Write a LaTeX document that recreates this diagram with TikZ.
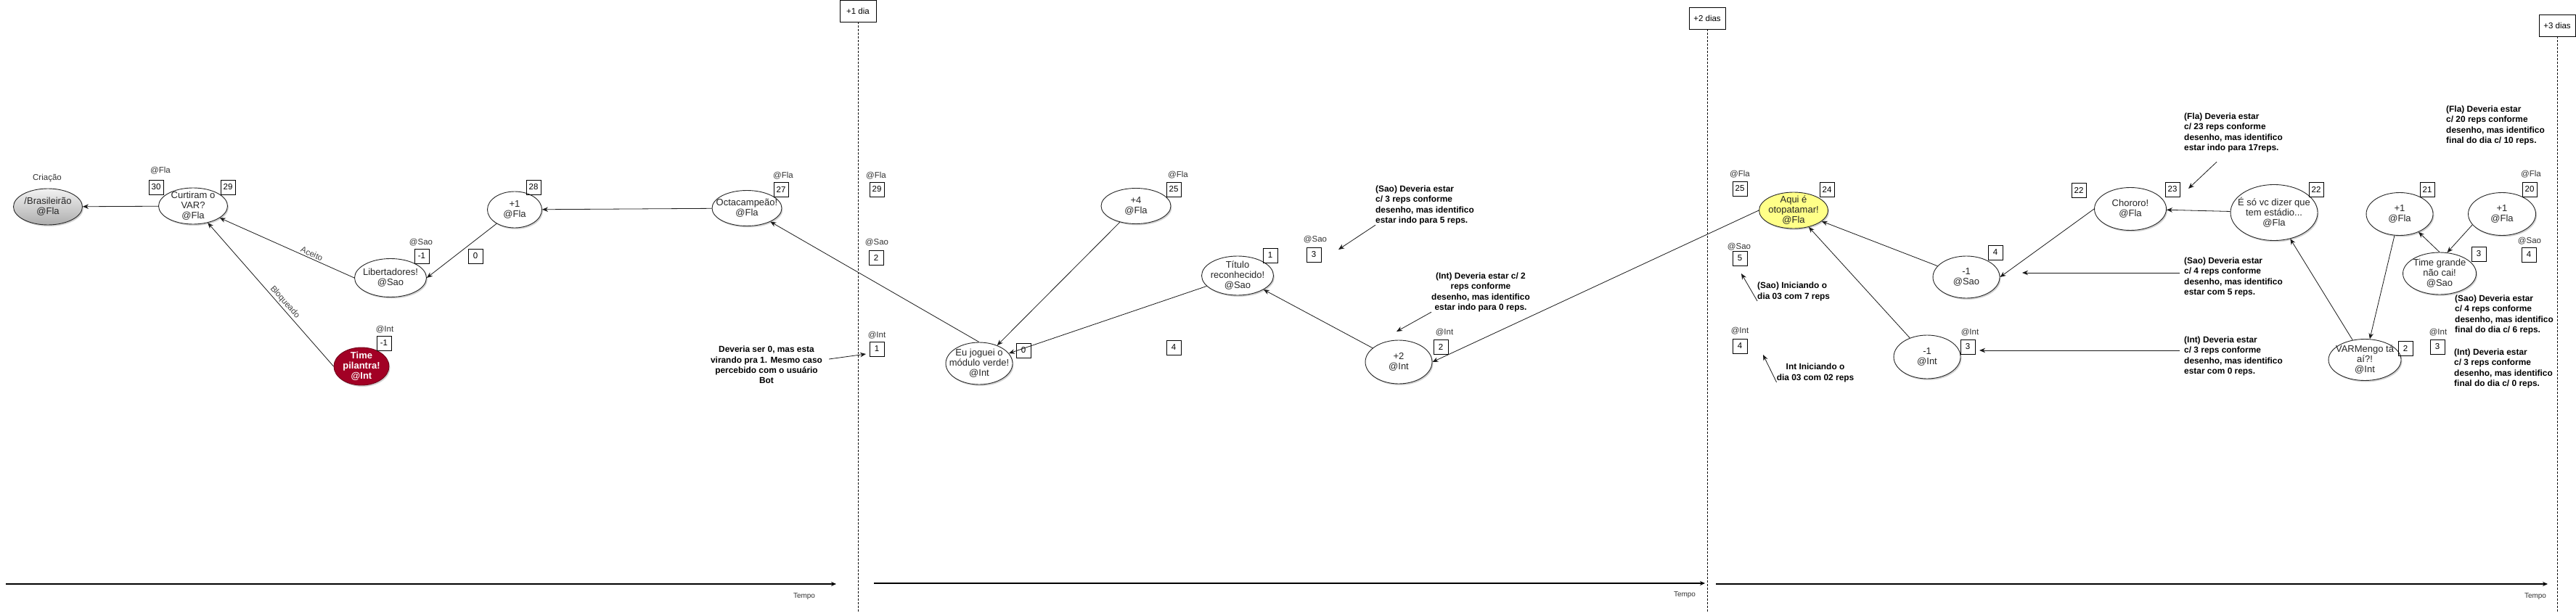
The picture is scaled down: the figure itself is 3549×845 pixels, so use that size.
\documentclass[tikz,border=0pt]{standalone}
\usepackage{fontspec}
\setmainfont{Liberation Sans}
\usetikzlibrary{positioning,arrows.meta,shadows,calc,shapes.geometric}
\definecolor{pilantrared}{HTML}{A20025}
\definecolor{patamar}{HTML}{FFFF88}

\begin{document}
\begin{tikzpicture}[
  x=1pt,y=-1pt,
  font=\fontsize{13}{14}\selectfont,
  post/.style={ellipse,draw=black!85,line width=0.9pt,fill=white,text=black!85,align=center,
               inner sep=-30pt,minimum width=95pt,minimum height=50pt,
               drop shadow={shadow xshift=1.5pt,shadow yshift=-2pt,fill=black!30,opacity=0.6}},
  num/.style={draw,line width=0.9pt,minimum width=20pt,minimum height=20pt,inner sep=0pt,
              font=\fontsize{11.5}{13}\selectfont},
  who/.style={inner sep=0pt,text=black!80,font=\fontsize{11.5}{13}\selectfont},
  lbl/.style={inner sep=1pt,text=black!75,font=\fontsize{11.5}{13}\selectfont},
  note/.style={inner sep=0pt,align=left,font=\bfseries\fontsize{11.9}{14.3}\selectfont},
  day/.style={draw,line width=0.9pt,minimum width=50pt,minimum height=30pt,inner sep=0pt,
              font=\fontsize{11.5}{13}\selectfont},
  arr/.style={-{Stealth[length=8pt,width=6.5pt]},line width=0.8pt,black!90},
  vira/.style={dash pattern=on 3pt off 2pt,line width=0.8pt},
  tempo/.style={-{Stealth[length=7pt,width=6pt]},line width=1.2pt},
]
\useasboundingbox (0,0) rectangle (3549,845);

% ---------- Dia 0: criacao do topico ----------
\node[who] (criacao) at (65,246) {Criação};
\node[post,top color=black!5,bottom color=black!32] (bras) at (66,285) {/Brasileirão\\@Fla};
\node[post] (curtiram) at (266,284) {Curtiram o\\VAR?\\@Fla};
\node[post,minimum width=99pt,minimum height=53pt] (libert) at (538,383) {Libertadores!\\@Sao};
\node[post,fill=pilantrared,draw=pilantrared!70!black,text=white,
      font=\bfseries\fontsize{13}{14}\selectfont,minimum width=76pt,minimum height=52pt]
  (pilantra) at (498,505) {Time\\pilantra!\\@Int};
\node[post,minimum width=75pt] (maisum) at (709,289) {+1\\@Fla};
\node[post,minimum width=96pt,minimum height=49pt] (octa) at (1029,287) {Octacampeão!\\@Fla};

\node[who] (wCurt) at (221,235) {@Fla};
\node[num] (bCurt30) at (215,258) {30};
\node[num] (bCurt29) at (314,258) {29};
\node[who] (wLib) at (580,334) {@Sao};
\node[num] (bLib) at (581,353) {-1};
\node[who] (wPil) at (530,454) {@Int};
\node[num] (bPil) at (529,473) {-1};
\node[num] (bMaisum) at (735,258) {28};
\node[num] (bZero) at (655,353) {0};
\node[who] (wOcta) at (1079,242) {@Fla};
\node[num] (bOcta) at (1076,261) {27};

\draw[arr] (curtiram) -- (bras);
\draw[arr] (libert.west) -- node[lbl,sloped,above=1pt,pos=0.33] {Aceito} (curtiram);
\draw[arr] (pilantra.west) -- node[lbl,sloped,above=1pt,pos=0.42] {Bloqueado} (curtiram);
\draw[arr] (maisum) -- (libert.east);
\draw[arr] (octa) -- (maisum);

% ---------- +1 dia ----------
\node[day] (dia1) at (1182,15) {+1 dia};
\coordinate (dia1end) at (1182,845);
\draw[vira] (dia1) -- (dia1end);
\node[who] (wD1Fla) at (1207,242) {@Fla};
\node[num] (bD1Fla) at (1208,261) {29};
\node[who] (wD1Sao) at (1208,334) {@Sao};
\node[num] (bD1Sao) at (1207,355) {2};
\node[who] (wD1Int) at (1208,462) {@Int};
\node[num] (bD1Int) at (1208,481) {1};
\node[note,align=center] (deveria) at (1056,503)
  {Deveria ser 0, mas esta\\virando pra 1. Mesmo caso\\percebido com o usuário\\Bot};
\coordinate (tipD1) at (1193,488);
\draw[arr] ($(deveria.east)+(9,-8)$) -- (tipD1);

% ---------- Dia 1 ----------
\node[post,minimum width=92pt,minimum height=58pt] (modulo) at (1349,501) {Eu joguei o\\módulo verde!\\@Int};
\node[post,minimum width=96pt,minimum height=49pt] (maisquatro) at (1565,284) {+4\\@Fla};
\node[post,minimum width=99pt,minimum height=54pt] (titulo) at (1705,380) {Título\\reconhecido!\\@Sao};
\node[post,minimum width=92pt,minimum height=60pt] (maisdois) at (1927,499) {+2\\@Int};

\node[num] (bModulo) at (1410,483) {0};
\node[who] (wQuatro) at (1623,241) {@Fla};
\node[num] (bQuatro) at (1617,261) {25};
\node[num] (bVazio) at (1617,479) {4};
\node[num] (bTitulo) at (1750,352) {1};
\node[who] (wSao3) at (1812,330) {@Sao};
\node[num] (bSao3) at (1810,351) {3};
\node[who] (wDois) at (1990,458) {@Int};
\node[num] (bDois) at (1985,478) {2};

\node[note,anchor=west] (noteSao3) at (1895,283)
  {(Sao) Deveria estar\\c/ 3 reps conforme\\desenho, mas identifico\\estar indo para 5 reps.};
\node[note,align=center] (noteInt2) at (2040,403)
  {(Int) Deveria estar c/ 2\\reps conforme\\desenho, mas identifico\\estar indo para 0 reps.};
\coordinate (tipSao3) at (1844,344);
\coordinate (tipInt2) at (1924,457);
\draw[arr] (noteSao3.south west) -- (tipSao3);
\draw[arr] (noteInt2.south west) -- (tipInt2);

\draw[arr] (modulo.north) -- (octa);
\draw[arr] (maisquatro) -- (modulo);
\draw[arr] (titulo) -- (modulo);
\draw[arr] (maisdois) -- (titulo);

% ---------- +2 dias ----------
\node[day] (dia2) at (2352,25) {+2 dias};
\coordinate (dia2end) at (2352,845);
\draw[vira] (dia2) -- (dia2end);
\node[who] (wD2Fla) at (2397,240) {@Fla};
\node[num] (bD2Fla) at (2397,260) {25};
\node[who] (wD2Sao) at (2396,340) {@Sao};
\node[num] (bD2Sao) at (2397,356) {5};
\node[who] (wD2Int) at (2397,456) {@Int};
\node[num] (bD2Int) at (2397,477) {4};
\node[note,anchor=west] (noteSao7) at (2421,402) {(Sao) Iniciando o\\dia 03 com 7 reps};
\node[note,align=center] (noteInt02) at (2501,514) {Int Iniciando o\\dia 03 com 02 reps};
\coordinate (tipSao7) at (2399,377);
\coordinate (tipInt02) at (2429,489);
\draw[arr] (noteSao7.south west) -- (tipSao7);
\draw[arr] (noteInt02.south west) -- (tipInt02);

% ---------- Dia 2 ----------
\node[post,fill=patamar] (aqui) at (2471,290) {Aqui é\\otopatamar!\\@Fla};
\node[post,minimum width=92pt,minimum height=58pt] (menossao) at (2709,382) {-1\\@Sao};
\node[post,minimum width=92pt,minimum height=60pt] (menosint) at (2655,492) {-1\\@Int};
\node[post,minimum width=99pt,minimum height=59pt] (chororo) at (2935,288) {Chororo!\\@Fla};
\node[post,minimum width=120pt,minimum height=77pt] (estadio) at (3133,293) {É só vc dizer que\\tem estádio...\\@Fla};
\node[post,minimum width=100pt,minimum height=57pt] (varmengo) at (3258,496) {VARMengo tá\\aí?!\\@Int};
\node[post,minimum width=92pt,minimum height=59pt] (maisumA) at (3306,295) {+1\\@Fla};
\node[post,minimum width=93pt,minimum height=59pt] (maisumB) at (3447,295) {+1\\@Fla};
\node[post,minimum width=101pt,minimum height=58pt] (timegrande) at (3361,377) {Time grande\\não cai!\\@Sao};

\node[num] (bAqui) at (2517,261) {24};
\node[num] (bMenosSao) at (2749,348) {4};
\node[who] (wMenosInt) at (2714,458) {@Int};
\node[num] (bMenosInt) at (2711,478) {3};
\node[num] (bChoro22) at (2864,262) {22};
\node[num] (bChoro23) at (2993,261) {23};
\node[num] (bEstadio) at (3191,261) {22};
\node[num] (bVar) at (3314,480) {2};
\node[num] (bMaisumA) at (3344,261) {21};
\node[who] (wMaisumB) at (3487,240) {@Fla};
\node[num] (bMaisumB) at (3485,261) {20};
\node[num] (bTime) at (3415,350) {3};
\node[who] (wD3Sao) at (3485,332) {@Sao};
\node[num] (bD3Sao) at (3484,351) {4};
\node[who] (wD3Int) at (3359,458) {@Int};
\node[num] (bD3Int) at (3358,478) {3};

\node[note,anchor=west] (noteFla23) at (3009,183)
  {(Fla) Deveria estar\\c/ 23 reps conforme\\desenho, mas identifico\\estar indo para 17reps.};
\node[note,anchor=west] (noteSao4) at (3009,382)
  {(Sao) Deveria estar\\c/ 4 reps conforme\\desenho, mas identifico\\estar com 5 reps.};
\node[note,anchor=west] (noteInt3) at (3009,491)
  {(Int) Deveria estar\\c/ 3 reps conforme\\desenho, mas identifico\\estar com 0 reps.};
\node[note,anchor=west] (noteFla20) at (3370,173)
  {(Fla) Deveria estar\\c/ 20 reps conforme\\desenho, mas identifico\\final do dia c/ 10 reps.};
\node[note,anchor=west] (noteSao4b) at (3382,434)
  {(Sao) Deveria estar\\c/ 4 reps conforme\\desenho, mas identifico\\final do dia c/ 6 reps.};
\node[note,anchor=west] (noteInt3b) at (3381,508)
  {(Int) Deveria estar\\c/ 3 reps conforme\\desenho, mas identifico\\final do dia c/ 0 reps.};
\coordinate (tipFla23) at (3015,260);
\coordinate (tipSao4) at (2786,376);
\coordinate (tipInt3) at (2727,483);
\draw[arr] ($(noteFla23.south west)+(45,13)$) -- (tipFla23);
\draw[arr,shorten <=6pt] (noteSao4.west |- tipSao4) -- (tipSao4);
\draw[arr,shorten <=6pt] (noteInt3.west |- tipInt3) -- (tipInt3);

\draw[arr] (aqui.west) -- (maisdois.east);
\draw[arr] (menossao) -- (aqui);
\draw[arr] (menosint) -- (aqui);
\draw[arr] (chororo.west) -- (menossao.east);
\draw[arr] (estadio) -- (chororo);
\draw[arr] (varmengo) -- (estadio);
\draw[arr] (maisumA) -- (varmengo);
\draw[arr] (timegrande.north) -- (maisumA);
\draw[arr] (maisumB.200) -- (timegrande.70);

% ---------- +3 dias ----------
\node[day] (dia3) at (3523,35) {+3 dias};
\coordinate (dia3end) at (3523,845);
\draw[vira] (dia3) -- (dia3end);

% ---------- eixo do tempo ----------
\coordinate (tempoA0) at (8,805);
\coordinate (tempoA1) at (1152,805);
\coordinate (tempoB0) at (1204,804);
\coordinate (tempoB1) at (2349,804);
\coordinate (tempoC0) at (2364,805);
\coordinate (tempoC1) at (3510,805);
\draw[tempo] (tempoA0) -- (tempoA1);
\draw[tempo] (tempoB0) -- (tempoB1);
\draw[tempo] (tempoC0) -- (tempoC1);
\node[who,font=\fontsize{10}{12}\selectfont] (tempoA) at (1108,822) {Tempo};
\node[who,font=\fontsize{10}{12}\selectfont] (tempoB) at (2321,820) {Tempo};
\node[who,font=\fontsize{10}{12}\selectfont] (tempoC) at (3493,822) {Tempo};
\end{tikzpicture}
\end{document}
